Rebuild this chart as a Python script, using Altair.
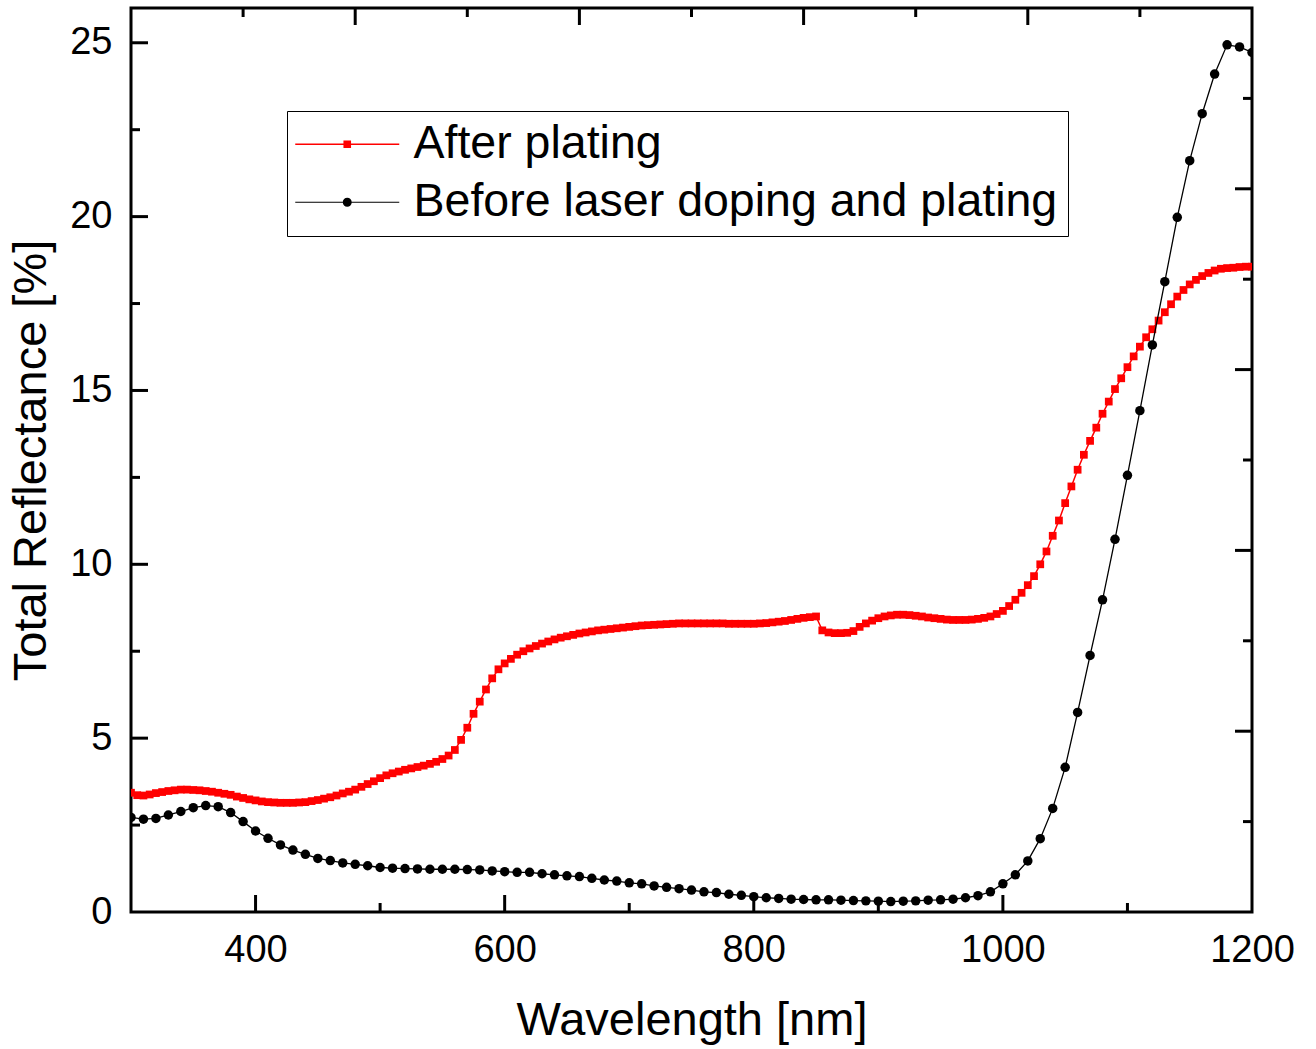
import altair as alt
import pandas as pd

FONT = "Liberation Sans"

series_names = ["After plating", "Before laser doping and plating"]

# After plating: one square every 5 nm, 300-1200 nm
red_nm = list(range(300, 1201, 5))
red_refl = [
    3.43, 3.36, 3.35, 3.38, 3.42, 3.45, 3.48, 3.50, 3.52, 3.52,   # 300-345
    3.51, 3.50, 3.48, 3.46, 3.43, 3.40, 3.37, 3.32, 3.28, 3.24,   # 350-395
    3.21, 3.18, 3.16, 3.15, 3.14, 3.14, 3.14, 3.15, 3.16, 3.19,   # 400-445
    3.22, 3.26, 3.30, 3.35, 3.41, 3.46, 3.52, 3.60, 3.68, 3.76,   # 450-495
    3.85, 3.93, 3.99, 4.04, 4.09, 4.13, 4.17, 4.21, 4.26, 4.32,   # 500-545
    4.40, 4.50, 4.66, 4.95, 5.30, 5.70, 6.05, 6.40, 6.72, 6.98,   # 550-595
    7.15, 7.28, 7.40, 7.50, 7.58, 7.65, 7.72, 7.78, 7.84, 7.89,   # 600-645
    7.93, 7.97, 8.01, 8.04, 8.07, 8.10, 8.12, 8.14, 8.16, 8.18,   # 650-695
    8.20, 8.22, 8.24, 8.25, 8.26, 8.27, 8.28, 8.29, 8.30, 8.30,   # 700-745
    8.30, 8.30, 8.30, 8.30, 8.30, 8.30, 8.29, 8.29, 8.29, 8.29,   # 750-795
    8.29, 8.30, 8.31, 8.33, 8.35, 8.37, 8.40, 8.43, 8.46, 8.48,   # 800-845
    8.50, 8.10, 8.04, 8.02, 8.02, 8.03, 8.08, 8.20, 8.30, 8.38,   # 850-895
    8.45, 8.50, 8.53, 8.55, 8.55, 8.54, 8.52, 8.50, 8.47, 8.45,   # 900-945
    8.43, 8.41, 8.40, 8.40, 8.40, 8.41, 8.43, 8.46, 8.50, 8.57,   # 950-995
    8.66, 8.80, 8.98, 9.18, 9.40, 9.66, 10.00, 10.37, 10.82, 11.26,  # 1000-1045
    11.76, 12.24, 12.72, 13.15, 13.55, 13.93, 14.33, 14.68, 15.04, 15.35,  # 1050-1095
    15.67, 15.98, 16.26, 16.53, 16.76, 17.01, 17.25, 17.48, 17.70, 17.89,  # 1100-1145
    18.05, 18.18, 18.29, 18.38, 18.45, 18.50, 18.52, 18.53, 18.55, 18.56,  # 1150-1195
    18.56,                                                         # 1200
]

# Before laser doping and plating: one dot every 10 nm, 300-1200 nm
black_nm = list(range(300, 1201, 10))
black_refl = [
    2.72, 2.67, 2.69, 2.79, 2.89, 3.00, 3.06, 3.03, 2.86, 2.60,   # 300-390
    2.33, 2.12, 1.93, 1.78, 1.66, 1.54, 1.48, 1.41, 1.37, 1.33,   # 400-490
    1.28, 1.26, 1.25, 1.24, 1.23, 1.23, 1.23, 1.22, 1.21, 1.18,   # 500-590
    1.16, 1.14, 1.14, 1.10, 1.07, 1.04, 1.02, 0.97, 0.92, 0.89,   # 600-690
    0.84, 0.81, 0.75, 0.71, 0.67, 0.63, 0.58, 0.56, 0.51, 0.48,   # 700-790
    0.44, 0.41, 0.39, 0.37, 0.36, 0.35, 0.35, 0.34, 0.33, 0.32,   # 800-890
    0.31, 0.30, 0.31, 0.32, 0.34, 0.35, 0.37, 0.41, 0.47, 0.58,   # 900-990
    0.81, 1.07, 1.47, 2.11, 2.98, 4.16, 5.74, 7.38, 8.98, 10.72,  # 1000-1090
    12.56, 14.42, 16.31, 18.13, 19.98, 21.61, 22.96, 24.10, 24.94, 24.88,  # 1100-1190
    24.72,                                                         # 1200
]

x_label_values = [400, 600, 800, 1000, 1200]
y_label_values = [0, 5, 10, 15, 20, 25]

# inward frame ticks
bottom_major = [400, 600, 800, 1000]
bottom_minor = [500, 700, 900, 1100]
left_major = [5, 10, 15, 20, 25]
left_minor = [2.5, 7.5, 12.5, 17.5, 22.5]
top_major = [480, 660, 840, 1020]
top_minor = [390, 570, 750, 930, 1110]
right_major = [5.2, 10.4, 15.6, 20.8]
right_minor = [2.6, 7.8, 13.0, 18.2, 23.4]

W, H = 1121, 904
MAJ, MIN = 17, 9

red_df = pd.DataFrame({"nm": red_nm, "refl": red_refl})
black_df = pd.DataFrame({"nm": black_nm, "refl": black_refl})

xscale = alt.Scale(domain=[300, 1200], nice=False, zero=False)
yscale = alt.Scale(domain=[0, 26], nice=False)

x_axis = alt.Axis(
    values=x_label_values, format="d", ticks=False, tickSize=0, domain=False, grid=False,
    labelFlush=False, labelOverlap=False,
    labelFontSize=38, labelFont=FONT, labelColor="black", labelPadding=19,
    title="Wavelength [nm]", titleFontSize=47, titleFont=FONT,
    titleFontWeight="normal", titleColor="black", titlePadding=28,
)
y_axis = alt.Axis(
    values=y_label_values, format="d", ticks=False, tickSize=0, domain=False, grid=False,
    labelFlush=False, labelOverlap=False,
    labelFontSize=38, labelFont=FONT, labelColor="black", labelPadding=19,
    title="Total Reflectance [%]", titleFontSize=47, titleFont=FONT,
    titleFontWeight="normal", titleColor="black", titlePadding=14,
)

red_line = alt.Chart(red_df).mark_line(color="#ff0000", strokeWidth=1.5, clip=True).encode(
    x=alt.X("nm:Q", scale=xscale, axis=x_axis),
    y=alt.Y("refl:Q", scale=yscale, axis=y_axis),
)
red_pts = alt.Chart(red_df).mark_point(
    shape="square", filled=True, color="#ff0000", size=60, opacity=1, clip=True
).encode(
    x=alt.X("nm:Q", scale=xscale, axis=None),
    y=alt.Y("refl:Q", scale=yscale, axis=None),
)
black_line = alt.Chart(black_df).mark_line(color="black", strokeWidth=1.3, clip=True).encode(
    x=alt.X("nm:Q", scale=xscale, axis=None),
    y=alt.Y("refl:Q", scale=yscale, axis=None),
)
black_pts = alt.Chart(black_df).mark_point(
    shape="circle", filled=True, color="black", size=90, opacity=1, clip=True
).encode(
    x=alt.X("nm:Q", scale=xscale, axis=None),
    y=alt.Y("refl:Q", scale=yscale, axis=None),
)


def xticks(vals, y0, y1):
    return alt.Chart(pd.DataFrame({"v": vals})).mark_rule(color="black", strokeWidth=3).encode(
        x=alt.X("v:Q", scale=xscale, axis=None), y=alt.value(y0), y2=alt.value(y1)
    )


def yticks(vals, x0, x1):
    return alt.Chart(pd.DataFrame({"v": vals})).mark_rule(color="black", strokeWidth=3).encode(
        y=alt.Y("v:Q", scale=yscale, axis=None), x=alt.value(x0), x2=alt.value(x1)
    )


ticks = [
    xticks(bottom_major, H, H - MAJ),
    xticks(bottom_minor, H, H - MIN),
    xticks(top_major, 0, MAJ),
    xticks(top_minor, 0, MIN),
    yticks(left_major, 0, MAJ),
    yticks(left_minor, 0, MIN),
    yticks(right_major, W, W - MAJ),
    yticks(right_minor, W, W - MIN),
]

# legend symbols: line segment + marker (custom paths, unit = sqrt(size)/2 px)
sq_path = ("M-5.2,-0.08H-0.3V0.08H-5.2Z M0.3,-0.08H5.2V0.08H0.3Z "
           "M-0.38,-0.38H0.38V0.38H-0.38Z")
circ_path = ("M-5.2,-0.06H-0.3V0.06H-5.2Z M0.3,-0.06H5.2V0.06H0.3Z "
             "M0.45,0A0.45,0.45,0,1,1,-0.45,0A0.45,0.45,0,1,1,0.45,0Z")

leg = alt.Legend(
    orient="none", legendX=156, legendY=103, title=None,
    labelFontSize=46.5, labelFont=FONT, labelColor="black", labelLimit=0,
    symbolSize=400, symbolOffset=27, labelOffset=43, rowPadding=11,
    padding=10, strokeColor="black", symbolStrokeWidth=0, symbolOpacity=1,
)
legend_df = pd.DataFrame({"series": series_names})
legend_layer = alt.Chart(legend_df).mark_point(filled=True, opacity=1).encode(
    x=alt.value(0), y=alt.value(0),
    fill=alt.Fill("series:N", scale=alt.Scale(domain=series_names, range=["#ff0000", "#000000"]), legend=leg),
    shape=alt.Shape("series:N", scale=alt.Scale(domain=series_names, range=[sq_path, circ_path]), legend=leg),
).transform_filter("datum.series == 'none'")

chart = alt.layer(
    red_line, red_pts, black_line, black_pts, *ticks, legend_layer
).resolve_axis(
    x="independent", y="independent"
).properties(
    width=W, height=H,
    autosize=alt.AutoSizeParams(type="none"),
    padding={"left": 131, "top": 8, "right": 64, "bottom": 137},
    background="white",
).configure_view(
    stroke="black", strokeWidth=3
)

chart.save("out.html", embed_options={"renderer": "svg", "actions": False})
